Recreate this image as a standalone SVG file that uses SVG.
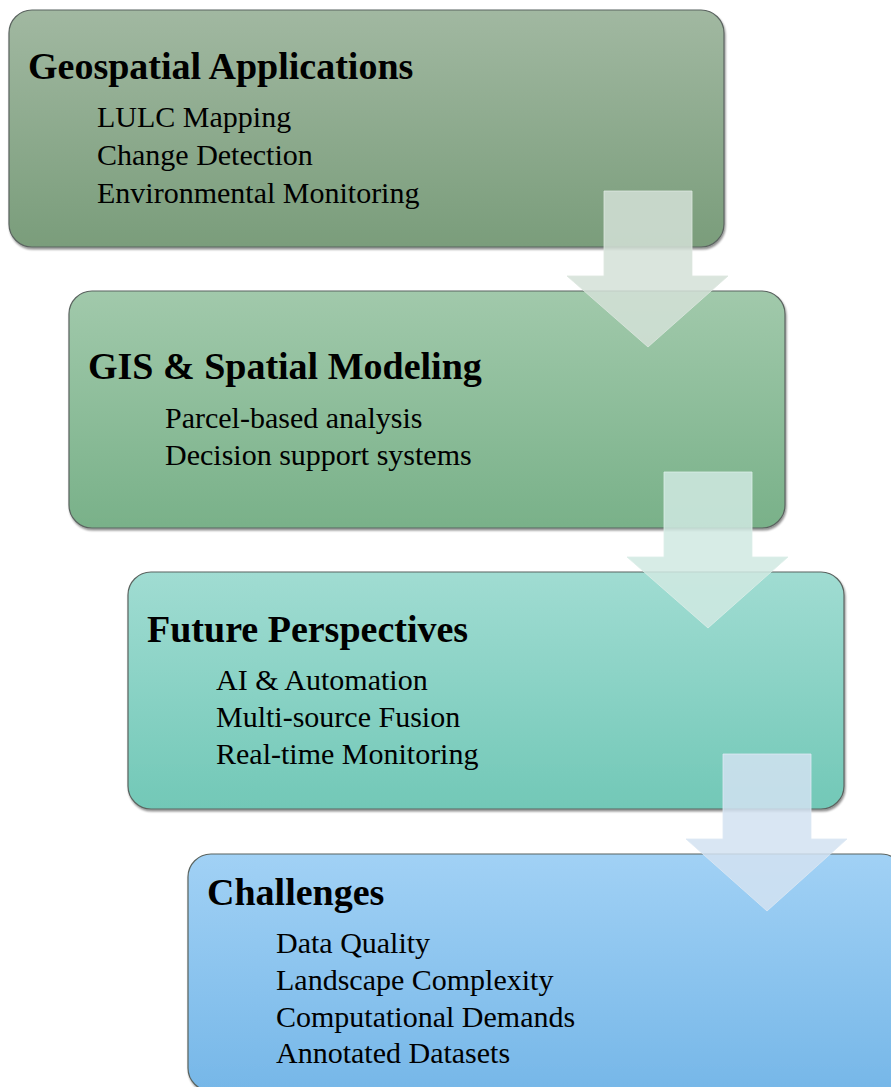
<svg xmlns="http://www.w3.org/2000/svg" width="891" height="1087" viewBox="0 0 891 1087">
  <defs>
    <linearGradient id="gGeo" x1="0" y1="0" x2="0" y2="1">
      <stop offset="0" stop-color="#a1b8a1"/>
      <stop offset="1" stop-color="#7a9d7b"/>
    </linearGradient>
    <linearGradient id="gGis" x1="0" y1="0" x2="0" y2="1">
      <stop offset="0" stop-color="#a1c9ab"/>
      <stop offset="1" stop-color="#79b189"/>
    </linearGradient>
    <linearGradient id="gFut" x1="0" y1="0" x2="0" y2="1">
      <stop offset="0" stop-color="#a0dcd2"/>
      <stop offset="1" stop-color="#72c8b7"/>
    </linearGradient>
    <linearGradient id="gCha" x1="0" y1="0" x2="0" y2="1">
      <stop offset="0" stop-color="#a1d1f5"/>
      <stop offset="1" stop-color="#76b7e8"/>
    </linearGradient>
    <filter id="shadow" x="-5%" y="-5%" width="110%" height="115%">
      <feGaussianBlur in="SourceAlpha" stdDeviation="1"/>
      <feOffset dx="1" dy="1.5" result="off"/>
      <feComponentTransfer><feFuncA type="linear" slope="0.45"/></feComponentTransfer>
      <feMerge><feMergeNode/><feMergeNode in="SourceGraphic"/></feMerge>
    </filter>
  </defs>
  <style>
    .box { stroke: #5b6460; stroke-width: 1.2; filter: url(#shadow); }
    .title { font-family: "Liberation Serif", "Times New Roman", serif; font-weight: bold; font-size: 38px; fill: #000; }
    .item { font-family: "Liberation Serif", "Times New Roman", serif; font-size: 30px; fill: #000; }
    .arrow { stroke-width: 1; }
  </style>

  <rect width="891" height="1087" fill="#ffffff"/>

  <!-- stage 1 -->
  <g id="geospatial-applications">
    <rect class="box" x="9" y="10" width="715" height="237" rx="23" fill="url(#gGeo)"/>
    <text class="title" x="28" y="79">Geospatial Applications</text>
    <text class="item" x="97" y="127">LULC Mapping</text>
    <text class="item" x="97" y="165">Change Detection</text>
    <text class="item" x="97" y="203">Environmental Monitoring</text>
  </g>

  <!-- stage 2 -->
  <g id="gis-spatial-modeling">
    <rect class="box" x="69" y="291" width="716" height="237" rx="23" fill="url(#gGis)"/>
    <text class="title" x="88" y="379">GIS &amp; Spatial Modeling</text>
    <text class="item" x="165" y="428">Parcel-based analysis</text>
    <text class="item" x="165" y="465">Decision support systems</text>
  </g>

  <!-- stage 3 -->
  <g id="future-perspectives">
    <rect class="box" x="128" y="572" width="716" height="237" rx="23" fill="url(#gFut)"/>
    <text class="title" x="147" y="642">Future Perspectives</text>
    <text class="item" x="216" y="690">AI &amp; Automation</text>
    <text class="item" x="216" y="727">Multi-source Fusion</text>
    <text class="item" x="216" y="764">Real-time Monitoring</text>
  </g>

  <!-- stage 4 -->
  <g id="challenges">
    <rect class="box" x="188" y="854" width="716" height="237" rx="23" fill="url(#gCha)"/>
    <text class="title" x="207" y="905">Challenges</text>
    <text class="item" x="276" y="953">Data Quality</text>
    <text class="item" x="276" y="990">Landscape Complexity</text>
    <text class="item" x="276" y="1027">Computational Demands</text>
    <text class="item" x="276" y="1063">Annotated Datasets</text>
  </g>

  <!-- block arrows between stages -->
  <g id="connectors">
    <polygon class="arrow" points="604,191 692,191 692,276 728,276 648,347 567,276 604,276"
             fill="#d3e0d7" fill-opacity="0.85" stroke="#dde7e0" stroke-opacity="0.8"/>
    <polygon class="arrow" points="664,472 752,472 752,557 788,557 708,628 627,557 664,557"
             fill="#d0e9e2" fill-opacity="0.85" stroke="#dcefe9" stroke-opacity="0.8"/>
    <polygon class="arrow" points="723,754 811,754 811,839 847,839 767,911 686,839 723,839"
             fill="#d2e2f1" fill-opacity="0.85" stroke="#dde9f4" stroke-opacity="0.8"/>
  </g>
</svg>
